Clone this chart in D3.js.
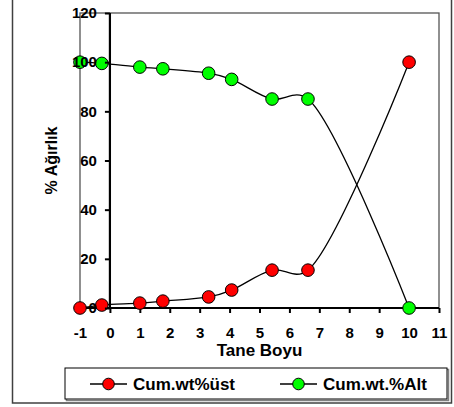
<!DOCTYPE html>
<html><head><meta charset="utf-8">
<script src="https://cdn.jsdelivr.net/npm/d3@7"></script>
<style>body{margin:0;background:#fff}svg{display:block}text{font-family:"Liberation Sans",Arial,sans-serif;font-weight:bold}</style>
</head><body><svg id="c" width="454" height="407"></svg>
<script>
const xValues = [-1, -0.27, 1, 1.77, 3.3, 4.07, 5.42, 6.62, 10];
const ustValues = [0, 1.2, 2, 2.8, 4.5, 7.3, 15.4, 15.4, 100];
const altValues = [100, 99.5, 98, 97.3, 95.5, 93, 85, 85, 0];
const seriesNames = ["Cum.wt%üst", "Cum.wt.%Alt"];
const seriesColors = ["#ff0000", "#00ff00"];
const xTicks = [-1,0,1,2,3,4,5,6,7,8,9,10,11];
const yTicks = [0,20,40,60,80,100,120];
const xTitle = "Tane Boyu";
const yTitle = "% Ağırlık";

const svg = d3.select("#c");
const x = d3.scaleLinear().domain([-1, 11]).range([80, 439]);
const y = d3.scaleLinear().domain([0, 120]).range([308, 13]);

// outer frame
svg.append("rect").attr("x", 12.5).attr("y", -2).attr("width", 439).attr("height", 405)
  .attr("fill", "none").attr("stroke", "#404040").attr("stroke-width", 1.5);

// plot frame
svg.append("rect").attr("x", x(-1)).attr("y", y(120)).attr("width", x(11) - x(-1)).attr("height", y(0) - y(120))
  .attr("fill", "none").attr("stroke", "#555").attr("stroke-width", 1.3);

// axes
const fmt = d => String(d);
const xAxis = d3.axisBottom(x).tickValues(xTicks).tickSize(5).tickPadding(14).tickFormat(fmt);
const yAxis = d3.axisLeft(y).tickValues(yTicks).tickSize(5).tickPadding(8).tickFormat(fmt);

// series
const series = [ustValues, altValues];
const line = d3.line().x(d => x(d[0])).y(d => y(d[1])).curve(d3.curveCatmullRom.alpha(0.4));
const marksG = svg.append("g");
series.forEach((vals, i) => {
  const pts = xValues.map((xv, j) => [xv, vals[j]]);
  marksG.append("path").datum(pts).attr("d", line).attr("fill", "none").attr("stroke", "#000").attr("stroke-width", 1.3);
});

const gx = svg.append("g").attr("transform", `translate(0,${y(0)})`).call(xAxis);
const gy = svg.append("g").attr("transform", `translate(${x(0)},0)`).call(yAxis);
[gx, gy].forEach(g => {
  g.select(".domain").attr("stroke", "#000").attr("stroke-width", 2.2);
  g.selectAll(".tick line").attr("stroke", "#000").attr("stroke-width", 2);
  g.selectAll(".tick text").attr("fill", "#000").attr("font-size", 15).attr("font-family", "Liberation Sans, Arial").attr("font-weight", "bold");
});
gx.select(".domain").attr("d", `M${x(-1)},0H${x(11)}`);
gy.select(".domain").attr("d", `M0,${y(0)}V${y(120)}`);

series.forEach((vals, i) => {
  const pts = xValues.map((xv, j) => [xv, vals[j]]);
  svg.append("g").selectAll("circle").data(pts).enter().append("circle")
    .attr("cx", d => x(d[0])).attr("cy", d => y(d[1])).attr("r", 6.3)
    .attr("fill", seriesColors[i]).attr("stroke", "#000").attr("stroke-width", 1);
});
// tick labels above marks
gy.raise();

// titles
svg.append("text").attr("x", (x(-1) + x(11)) / 2).attr("y", 356).attr("text-anchor", "middle")
  .attr("font-size", 17).text(xTitle);
svg.append("text").attr("transform", `translate(57,${(y(0) + y(120)) / 2}) rotate(-90)`).attr("text-anchor", "middle")
  .attr("font-size", 16).text(yTitle);

// legend
svg.append("rect").attr("x", 66.5).attr("y", 369.5).attr("width", 382).attr("height", 31)
  .attr("fill", "none").attr("stroke", "#808080").attr("stroke-width", 1.5);
svg.append("rect").attr("x", 65).attr("y", 368).attr("width", 382).attr("height", 31)
  .attr("fill", "#fff").attr("stroke", "#000").attr("stroke-width", 1);
const legX = [90, 280];
seriesNames.forEach((name, i) => {
  const g = svg.append("g").attr("transform", `translate(${legX[i]},384)`);
  g.append("line").attr("x1", 0).attr("x2", 37).attr("y1", 0).attr("y2", 0).attr("stroke", "#000").attr("stroke-width", 1.3);
  g.append("circle").attr("cx", 18.5).attr("cy", 0).attr("r", 5.8).attr("fill", seriesColors[i]).attr("stroke", "#000");
  g.append("text").attr("x", 43).attr("y", 6).attr("font-size", 17).text(name);
});
</script></body></html>
